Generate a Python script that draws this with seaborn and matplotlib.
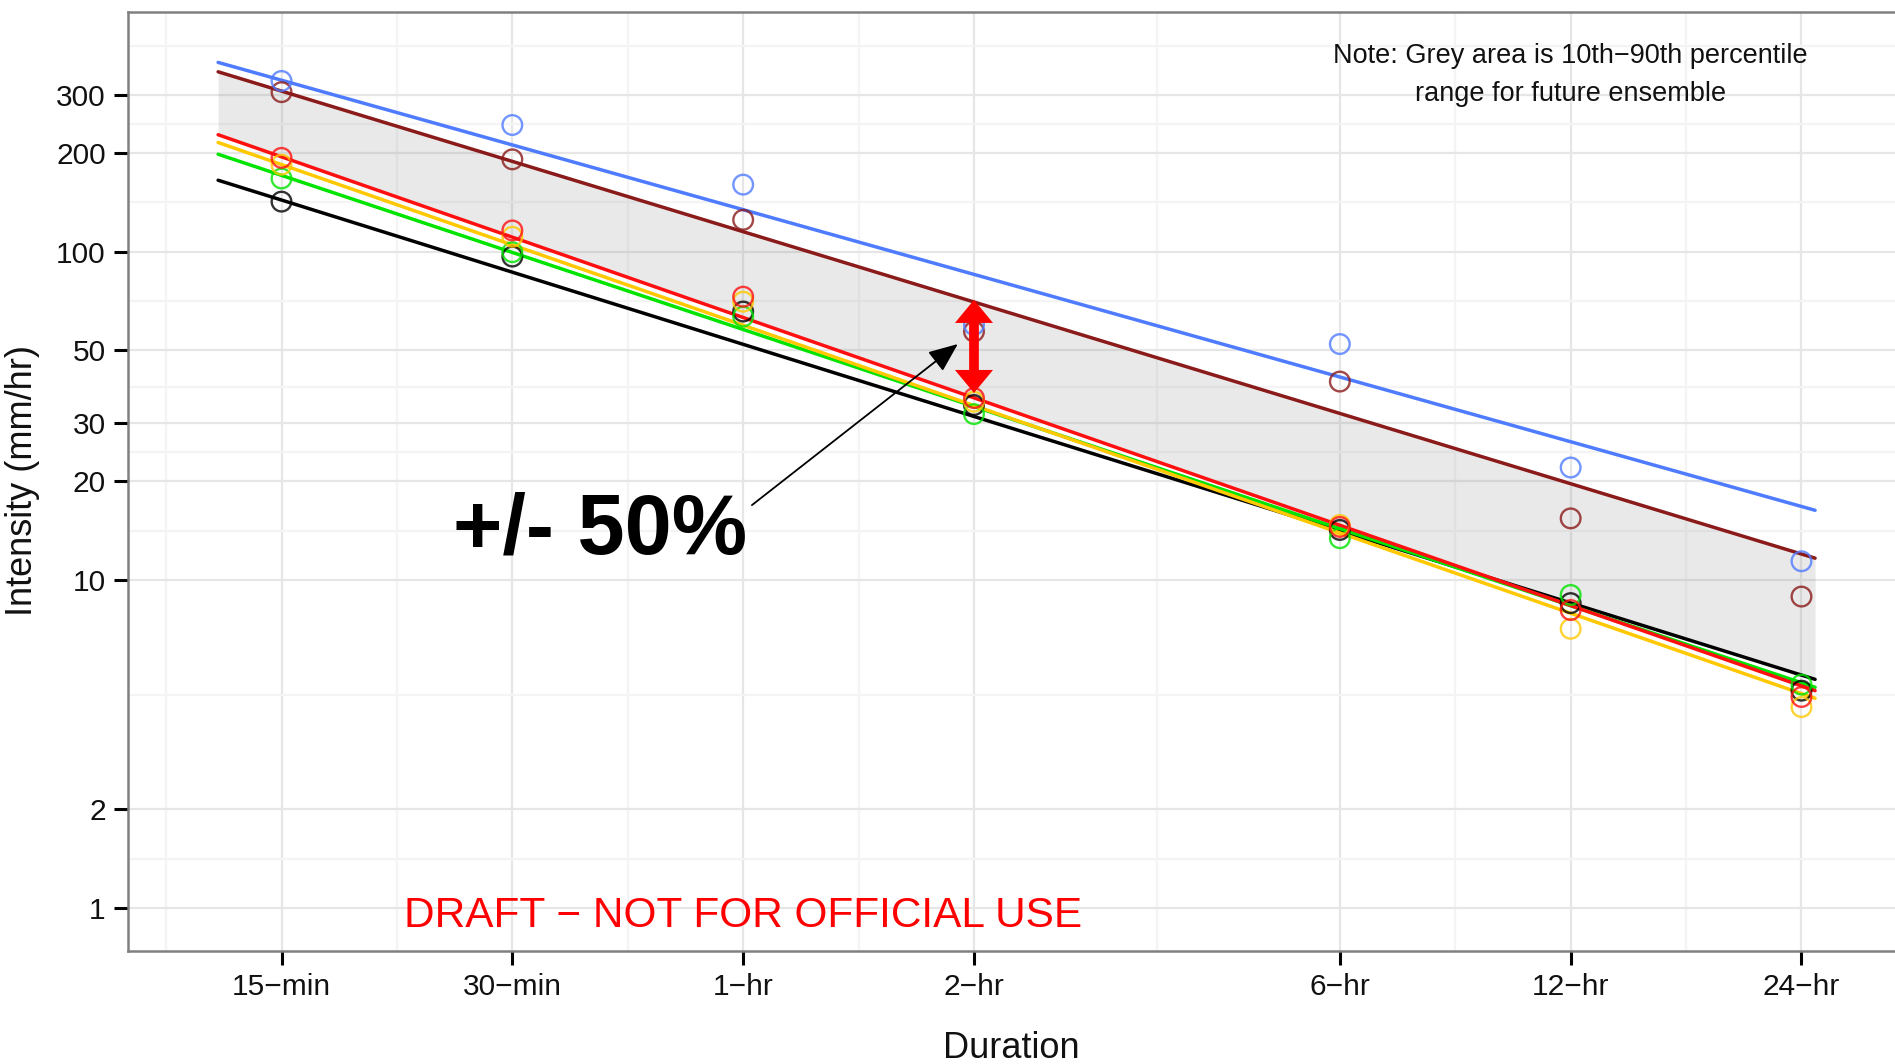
import numpy as np
import pandas as pd
import matplotlib
matplotlib.use("Agg")
import matplotlib.pyplot as plt
from matplotlib.ticker import FixedLocator, NullFormatter
import seaborn as sns

# ---------------- data ----------------
durations = [15, 30, 60, 120, 360, 720, 1440]          # minutes
duration_labels = ["15−min", "30−min", "1−hr", "2−hr", "6−hr", "12−hr", "24−hr"]
y_ticks = [1, 2, 10, 20, 30, 50, 100, 200, 300]
y_tick_labels = ["1", "2", "10", "20", "30", "50", "100", "200", "300"]

series_order = ["black", "green", "gold", "red", "brown", "blue"]
palette = {"blue": "#4F7BFF", "brown": "#8B1A1A", "red": "#FF1010",
           "gold": "#FFC800", "green": "#00E400", "black": "#000000"}

# observed / model points (mm/hr) at each duration
pts_blue  = [331, 243, 160, 59.8, 52.3, 22.0, 11.4]
pts_brown = [306, 191, 125, 57.1, 40.2, 15.4, 8.9]
pts_red   = [193, 116, 72.9, 35.8, 14.5, 8.1, 4.4]
pts_gold  = [184, 111, 70.4, 34.9, 14.7, 7.1, 4.1]
pts_green = [167, 99.6, 63.4, 32.0, 13.4, 9.0, 4.8]
pts_black = [142, 96.6, 65.7, 34.1, 14.2, 8.5, 4.6]

# fitted power-law lines (values at the two ends of the fitted range)
fit_x = [12.4, 1500]
fit_blue  = [377, 16.3]
fit_brown = [353, 11.65]
fit_red   = [227, 4.60]
fit_gold  = [215, 4.36]
fit_green = [198, 4.71]
fit_black = [165, 4.98]

# 10th-90th percentile band of the future ensemble
band_x = [12.4, 578, 1500]
band_lower = [227, 10.0, 4.98]
band_upper = [353, 23.0, 11.65]

# annotation anchors
spread_x = 120
spread_top, spread_bottom = 71.3, 37.1
pointer_from = (61.6, 16.9)
pointer_to = (114.3, 52.3)

points = {"blue": pts_blue, "brown": pts_brown, "red": pts_red,
          "gold": pts_gold, "green": pts_green, "black": pts_black}
fits = {"blue": fit_blue, "brown": fit_brown, "red": fit_red,
        "gold": fit_gold, "green": fit_green, "black": fit_black}

df_lines = pd.DataFrame([
    {"series": s, "Duration": x, "Intensity": y}
    for s in series_order for x, y in zip(fit_x, fits[s])
])

# ---------------- style ----------------
sns.set_style("white")
plt.rcParams["font.family"] = ["Liberation Sans", "DejaVu Sans"]
plt.rcParams["axes.unicode_minus"] = True

W, H = 1895, 1064
fig = plt.figure(figsize=(W / 100, H / 100), dpi=100)
ax = fig.add_axes([128 / W, 113 / H, 1777 / W, 939.3 / H])
ax.set_xscale("log")
ax.set_yscale("log")
ax.set_xlim(9.46, 1965)
ax.set_ylim(0.741, 538)

# band
ax.fill_between(band_x, band_lower, band_upper, color="#7F7F7F", alpha=0.17,
                linewidth=0, zorder=1.5)

# fitted lines
sns.lineplot(data=df_lines, x="Duration", y="Intensity", hue="series",
             hue_order=series_order, palette=palette, estimator=None,
             sort=False, legend=False, linewidth=2.5, ax=ax, zorder=3)

# hollow points
for s in series_order:
    sns.scatterplot(x=durations, y=points[s], color=palette[s], facecolor="none",
                    edgecolor=palette[s], s=200, linewidth=1.7, alpha=0.8,
                    ax=ax, zorder=4)

# ---------------- axes ----------------
ax.set_xticks(durations)
ax.set_xticklabels(duration_labels)
ax.set_yticks(y_ticks)
ax.set_yticklabels(y_tick_labels)

xt = np.array([15 / 2] + durations, dtype=float)
x_minor = np.sqrt(xt[:-1] * xt[1:])
yt = np.array([0.5] + y_ticks + [600], dtype=float)
y_minor = np.sqrt(yt[:-1] * yt[1:])
ax.xaxis.set_minor_locator(FixedLocator(x_minor))
ax.yaxis.set_minor_locator(FixedLocator(y_minor))
ax.xaxis.set_minor_formatter(NullFormatter())
ax.yaxis.set_minor_formatter(NullFormatter())

ax.tick_params(which="minor", length=0, bottom=False, left=False)
ax.tick_params(which="major", bottom=True, left=True, length=10, width=2.2,
               color="black", labelsize=21.5, labelcolor="#111111", pad=6)
ax.grid(which="major", color="#E6E6E6", linewidth=1.6)
ax.grid(which="minor", color="#F4F4F4", linewidth=1.6)
ax.set_axisbelow(True)
for sp in ax.spines.values():
    sp.set_color("#808080")
    sp.set_linewidth(1.8)

ax.set_xlabel("Duration", fontsize=26, color="#111111")
ax.set_ylabel("Intensity (mm/hr)", fontsize=26, color="#111111")
ax.xaxis.set_label_coords(0.497, -0.085)
ax.yaxis.set_label_coords(-0.0495, 0.501)

# ---------------- annotations ----------------
ax.text(720, 288, "Note: Grey area is 10th−90th percentile\nrange for future ensemble",
        ha="center", va="baseline", fontsize=19.5, color="#111111",
        linespacing=1.6, multialignment="center", zorder=6)

ax.text(60, 0.877, "DRAFT − NOT FOR OFFICIAL USE", ha="center", va="baseline",
        fontsize=30.5, color="#FF0000", zorder=6)

ax.text(25.1, 12.0, "+/- 50%", ha="left", va="baseline", fontsize=61,
        fontweight="bold", color="black", zorder=6)

ax.annotate("", xy=pointer_to, xytext=pointer_from,
            arrowprops=dict(arrowstyle="-|>,head_length=1.8,head_width=0.75",
                            mutation_scale=10, lw=1.3, color="black",
                            shrinkA=0, shrinkB=0), zorder=6)

# red double arrow: heads + shaft
ax.annotate("", xy=(spread_x, spread_top), xytext=(spread_x, spread_bottom),
            arrowprops=dict(arrowstyle="<|-|>,head_length=1.66,head_width=1.37",
                            mutation_scale=10, lw=0, color="#FF0000",
                            shrinkA=0, shrinkB=0), zorder=6)
ax.annotate("", xy=(spread_x, spread_top), xytext=(spread_x, spread_bottom),
            arrowprops=dict(arrowstyle="-", lw=7, color="#FF0000",
                            shrinkA=14, shrinkB=14, capstyle="butt"), zorder=6)

fig.savefig("out.png", dpi=100)
